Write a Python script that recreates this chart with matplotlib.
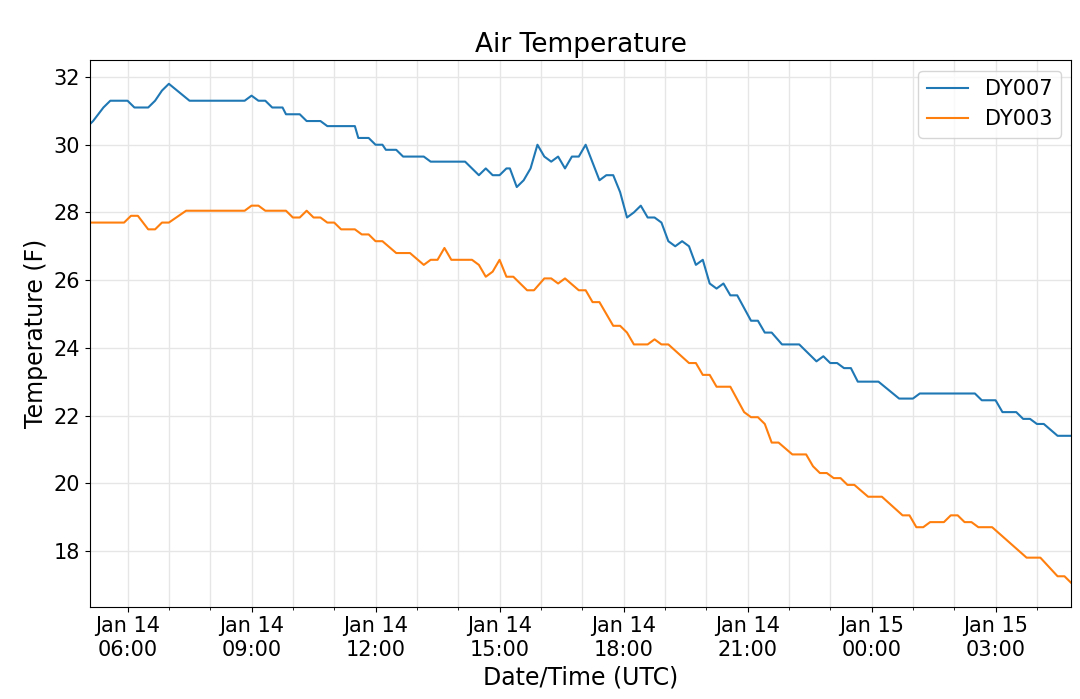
import matplotlib
matplotlib.use("Agg")
import matplotlib.pyplot as plt
import matplotlib.dates as mdates
import pandas as pd

base = pd.Timestamp("2024-01-14 00:00")

dy007_min = [305,310,325,335,360,370,390,400,410,420,450,530,540,550,560,570,585,590,610,620,640,650,690,695,710,720,730,735,750,760,790,800,850,870,880,890,900,910,915,925,935,945,955,965,975,985,995,1005,1015,1025,1045,1055,1065,1075,1085,1095,1105,1115,1125,1135,1145,1155,1165,1175,1185,1195,1205,1215,1225,1235,1245,1265,1275,1285,1295,1310,1335,1360,1370,1380,1390,1400,1410,1420,1450,1480,1500,1510,1590,1600,1620,1630,1650,1660,1670,1680,1690,1710,1730]
dy007_val = [30.6,30.7,31.1,31.3,31.3,31.1,31.1,31.3,31.6,31.8,31.3,31.3,31.45,31.3,31.3,31.1,31.1,30.9,30.9,30.7,30.7,30.55,30.55,30.2,30.2,30.0,30.0,29.85,29.85,29.65,29.65,29.5,29.5,29.1,29.3,29.1,29.1,29.3,29.3,28.75,28.95,29.3,30.0,29.65,29.5,29.65,29.3,29.65,29.65,30.0,28.95,29.1,29.1,28.6,27.85,28.0,28.2,27.85,27.85,27.7,27.15,27.0,27.15,27.0,26.45,26.6,25.9,25.75,25.9,25.55,25.55,24.8,24.8,24.45,24.45,24.1,24.1,23.6,23.75,23.55,23.55,23.4,23.4,23.0,23.0,22.5,22.5,22.65,22.65,22.45,22.45,22.1,22.1,21.9,21.9,21.75,21.75,21.4,21.4]

dy003_min = [305,355,365,375,390,400,410,420,445,530,540,550,560,590,600,610,620,630,640,650,660,670,690,700,710,720,730,750,770,790,800,810,820,830,860,870,880,890,900,910,920,940,950,965,975,985,995,1015,1025,1035,1045,1065,1075,1085,1095,1115,1125,1135,1145,1175,1185,1195,1205,1215,1235,1255,1265,1275,1285,1295,1305,1325,1345,1355,1365,1375,1385,1395,1405,1415,1435,1455,1485,1495,1505,1515,1525,1545,1555,1565,1575,1585,1595,1615,1665,1685,1710,1720,1730]
dy003_val = [27.7,27.7,27.9,27.9,27.5,27.5,27.7,27.7,28.05,28.05,28.2,28.2,28.05,28.05,27.85,27.85,28.05,27.85,27.85,27.7,27.7,27.5,27.5,27.35,27.35,27.15,27.15,26.8,26.8,26.45,26.6,26.6,26.95,26.6,26.6,26.45,26.1,26.25,26.6,26.1,26.1,25.7,25.7,26.05,26.05,25.9,26.05,25.7,25.7,25.35,25.35,24.65,24.65,24.45,24.1,24.1,24.25,24.1,24.1,23.55,23.55,23.2,23.2,22.85,22.85,22.1,21.95,21.95,21.75,21.2,21.2,20.85,20.85,20.5,20.3,20.3,20.15,20.15,19.95,19.95,19.6,19.6,19.05,19.05,18.7,18.7,18.85,18.85,19.05,19.05,18.85,18.85,18.7,18.7,17.8,17.8,17.25,17.25,17.05]

t7 = [base + pd.Timedelta(minutes=m) for m in dy007_min]
t3 = [base + pd.Timedelta(minutes=m) for m in dy003_min]

fig = plt.figure(figsize=(10.8, 6.99), dpi=100)
ax = fig.add_axes([0.083, 0.132, 0.909, 0.782])
ax.plot(t7, dy007_val, color="#1f77b4", lw=1.5, label="DY007")
ax.plot(t3, dy003_val, color="#ff7f0e", lw=1.5, label="DY003")
ax.set_xlim(base + pd.Timedelta(minutes=305), base + pd.Timedelta(minutes=1730))
ax.set_ylim(16.35, 32.5)
ax.set_yticks([18, 20, 22, 24, 26, 28, 30, 32])
ax.xaxis.set_major_locator(mdates.HourLocator(byhour=[0, 3, 6, 9, 12, 15, 18, 21]))
ax.xaxis.set_major_formatter(mdates.DateFormatter("%b %d\n%H:%M"))
ax.xaxis.set_minor_locator(mdates.HourLocator())
ax.grid(True, which="both", color="#e6e6e6", lw=1)
ax.tick_params(labelsize=15)
ax.set_xlabel("Date/Time (UTC)", fontsize=17)
ax.set_ylabel("Temperature (F)", fontsize=17)
ax.set_title("Air Temperature", fontsize=19)
ax.legend(fontsize=15, loc="upper right")
fig.savefig("out.png", dpi=100)
